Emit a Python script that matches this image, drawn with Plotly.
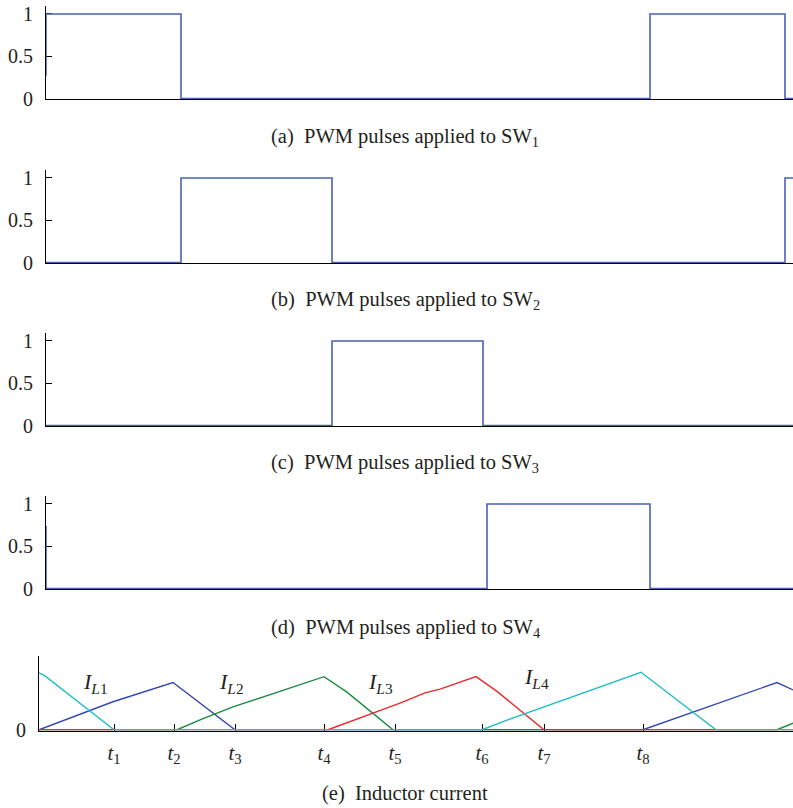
import plotly.graph_objects as go

W, H = 793, 808

# ---------------- data ----------------
# PWM panels (time in samples, value 0/1)
t_sw1 = [0, 0, 135, 135, 604, 604, 739, 739, 747]
v_sw1 = [0.27, 1, 1, 0, 0, 1, 1, 0, 0]
t_sw2 = [0, 135, 135, 286, 286, 739, 739, 747]
v_sw2 = [0, 0, 1, 1, 0, 0, 1, 1]
t_sw3 = [0, 286, 286, 437, 437, 747]
v_sw3 = [0, 0, 1, 1, 0, 0]
t_sw4 = [0, 0, 441, 441, 604, 604, 747]
v_sw4 = [0.74, 0, 0, 1, 1, 0, 0]
pwm_ticks = [0, 0.5, 1]
pwm_ticktext = ["0", "0.5", "1"]

# Inductor currents
t_il1 = [0, 74, 134, 154, 196, 604, 738, 754]
v_il1 = [0, 0.38, 0.64, 0.43, 0, 0, 0.64, 0.54]
t_il2 = [0, 138, 164, 194, 285, 308, 354, 738, 754]
v_il2 = [0, 0, 0.15, 0.31, 0.72, 0.51, 0, 0, 0.09]
t_il3 = [0, 289, 361, 386, 401, 437, 458, 505, 754]
v_il3 = [0, 0, 0.36, 0.50, 0.55, 0.72, 0.52, 0, 0]
t_il4 = [0, 5, 75, 443, 468, 538, 602, 677, 754]
v_il4 = [0.77, 0.74, 0, 0, 0.13, 0.47, 0.78, 0, 0]
t_ticks = [75, 135, 196, 285, 356, 443, 505, 604]
t_ticktext = ["<i>t</i><sub>%d</sub>" % k for k in range(1, 9)]
il_label_t = [56, 192, 341, 497]
il_label_v = [0.63, 0.63, 0.63, 0.70]
il_label_text = ["<i>I</i><sub><i>L</i>%d</sub>" % k for k in range(1, 5)]

captions = [
    "(a)  PWM pulses applied to SW<sub>1</sub>",
    "(b)  PWM pulses applied to SW<sub>2</sub>",
    "(c)  PWM pulses applied to SW<sub>3</sub>",
    "(d)  PWM pulses applied to SW<sub>4</sub>",
    "(e)  Inductor current",
]

# ---------------- layout helpers ----------------
FONT = "Liberation Serif"
TXT = "#231f20"
PWM_BLUE = "#4a60b8"
C_BLUE, C_GREEN, C_RED, C_CYAN = "#3348b0", "#1a8c40", "#ee2a2e", "#22bfc6"

def py(p):
    return 1 - p / H

# (bottom px, top px) for each panel
pwm_boxes = [(99, 5.5), (263, 169.5), (426, 332.5), (589, 495.5)]
cap_y = [137, 300, 464, 628, 793]

fig = go.Figure()
layout = dict(width=W, height=H, margin=dict(l=0, r=0, t=0, b=0, autoexpand=False),
              paper_bgcolor="white", plot_bgcolor="white", showlegend=False,
              font=dict(family=FONT, size=20, color=TXT))

pwm = [(t_sw1, v_sw1), (t_sw2, v_sw2), (t_sw3, v_sw3), (t_sw4, v_sw4)]
for i, ((tt, vv), (bot, top)) in enumerate(zip(pwm, pwm_boxes)):
    n = i + 1
    xa = "x" if n == 1 else "x%d" % n
    ya = "y" if n == 1 else "y%d" % n
    fig.add_trace(go.Scatter(x=tt, y=vv, mode="lines", xaxis=xa, yaxis=ya,
                             line=dict(color=PWM_BLUE, width=1.6), hoverinfo="skip"))
    layout["xaxis" if n == 1 else "xaxis%d" % n] = dict(
        domain=[46 / W, 1], range=[0, 747], anchor=ya, showline=True, linecolor="black",
        linewidth=1, showgrid=False, zeroline=False, showticklabels=False, ticks="",
        layer="below traces", automargin=False)
    layout["yaxis" if n == 1 else "yaxis%d" % n] = dict(
        domain=[py(bot), py(top)], range=[-0.005, 1.1], anchor=xa, showline=True,
        linecolor="black", linewidth=1, showgrid=False, zeroline=False,
        tickvals=pwm_ticks, ticktext=pwm_ticktext, ticks="inside", ticklen=6,
        tickcolor="black", tickwidth=1, ticklabelstandoff=8,
        tickfont=dict(family=FONT, size=20, color=TXT), layer="below traces",
        automargin=False)

# panel e
for tt, vv, c in [(t_il1, v_il1, C_BLUE), (t_il2, v_il2, C_GREEN),
                  (t_il3, v_il3, C_RED), (t_il4, v_il4, C_CYAN)]:
    fig.add_trace(go.Scatter(x=tt, y=vv, mode="lines", xaxis="x5", yaxis="y5",
                             line=dict(color=c, width=1.4), hoverinfo="skip"))
layout["xaxis5"] = dict(domain=[39 / W, 1], range=[0, 754], anchor="y5", showline=True,
                        linecolor="black", linewidth=1, showgrid=False, zeroline=False,
                        tickvals=t_ticks, ticktext=t_ticktext, ticks="inside", ticklen=7,
                        tickcolor="black", tickwidth=1, ticklabelstandoff=3,
                        tickfont=dict(family=FONT, size=21, color=TXT), layer="below traces",
                        automargin=False)
layout["yaxis5"] = dict(domain=[py(730.5), py(656)], range=[-0.01, 1.0], anchor="x5",
                        showline=True, linecolor="black", linewidth=1, showgrid=False,
                        zeroline=False, tickvals=[0], ticktext=["0"], ticks="",
                        ticklabelstandoff=8, tickfont=dict(family=FONT, size=20, color=TXT),
                        layer="below traces", automargin=False)

annotations = []
for txt, tx, ty in zip(il_label_text, il_label_t, il_label_v):
    annotations.append(dict(x=tx, y=ty, xref="x5", yref="y5", text=txt, showarrow=False,
                            font=dict(family=FONT, size=22, color=TXT)))
for txt, cy in zip(captions, cap_y):
    annotations.append(dict(x=405 / W, y=py(cy), xref="paper", yref="paper", text=txt,
                            showarrow=False, xanchor="center", yanchor="middle",
                            font=dict(family=FONT, size=20.5, color=TXT)))
layout["annotations"] = annotations

fig.update_layout(**layout)
fig.write_html("out.html")
